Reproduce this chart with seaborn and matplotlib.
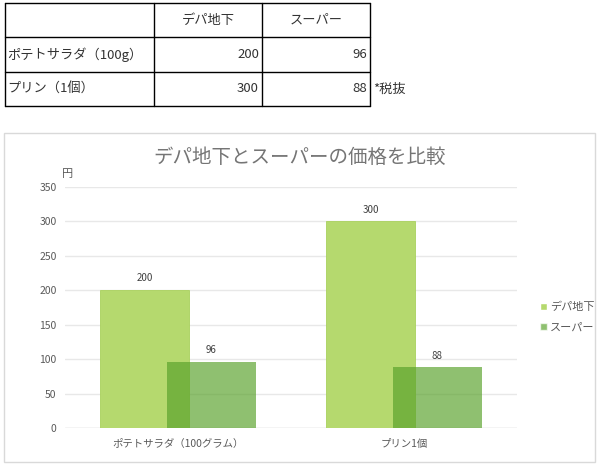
import pandas as pd
import matplotlib.pyplot as plt
import seaborn as sns
from matplotlib.patches import Rectangle, Patch
from matplotlib.lines import Line2D

# Data
ITEMS_TABLE = ["ポテトサラダ（100g）", "プリン（1個）"]
ITEMS_CHART = ["ポテトサラダ（100グラム）", "プリン1個"]
SERIES = ["デパ地下", "スーパー"]
DEPA_PRICES = [200, 300]
SUPER_PRICES = [96, 88]
TAX_NOTE = "*税抜"
TITLE = "デパ地下とスーパーの価格を比較"
Y_UNIT = "円"

W, H = 600, 467
FONTS = ["Noto Sans CJK JP", "DejaVu Sans"]

sns.set_theme(style="white")
plt.rcParams["font.family"] = FONTS


def fx(px):
    return px / W


def fy(py):
    return 1 - py / H


fig = plt.figure(figsize=(W / 100, H / 100), dpi=100)

# Table on top
col_x = [5, 154, 262, 370]
row_y = [3, 37, 72, 106]
for x in col_x:
    fig.add_artist(Line2D([fx(x), fx(x)], [fy(row_y[0]), fy(row_y[-1])], color="black", lw=1))
for y in row_y:
    fig.add_artist(Line2D([fx(col_x[0]), fx(col_x[-1])], [fy(y), fy(y)], color="black", lw=1))

for i, name in enumerate(SERIES):
    cx = (col_x[i + 1] + col_x[i + 2]) / 2
    fig.text(fx(cx), fy(20), name, ha="center", va="center", fontsize=9.5, color="#333333")

table_vals = [DEPA_PRICES, SUPER_PRICES]
for r, label in enumerate(ITEMS_TABLE):
    cy = (row_y[r + 1] + row_y[r + 2]) / 2
    fig.text(fx(7), fy(cy), label, ha="left", va="center", fontsize=9.5, color="#333333")
    for c in range(2):
        fig.text(fx(col_x[c + 2] - 3), fy(cy), str(table_vals[c][r]),
                 ha="right", va="center", fontsize=9.5, color="#333333")
fig.text(fx(373), fy(89), TAX_NOTE, ha="left", va="center", fontsize=9.5, color="#333333")

# Chart frame
fig.add_artist(Rectangle((fx(4), fy(462)), fx(591), 329 / H, transform=fig.transFigure,
                         fill=False, edgecolor="#d9d9d9", lw=1))

df = pd.DataFrame({
    "item": ITEMS_CHART * 2,
    "series": [SERIES[0]] * 2 + [SERIES[1]] * 2,
    "price": DEPA_PRICES + SUPER_PRICES,
})

ax = fig.add_axes([fx(65), 1 - 428 / H, fx(452), 241 / H])
sns.barplot(data=df, x="item", y="price", hue="series", order=ITEMS_CHART,
            hue_order=SERIES, palette=["#b5d96e", "#58a12a"], width=0.592,
            saturation=1, dodge=True, ax=ax, legend=False, errorbar=None)

# widen the bars so they overlap like the Excel chart
bar_w = 0.394
for k, p in enumerate(ax.patches):
    center = p.get_x() + p.get_width() / 2
    p.set_width(bar_w)
    p.set_x(center - bar_w / 2)
    if k >= 2:
        p.set_alpha(0.67)
        p.set_edgecolor("none")
    else:
        p.set_edgecolor("#a9d15d")
        p.set_linewidth(0.6)
    ax.text(center, p.get_height() + 10, f"{int(p.get_height())}", ha="center",
            va="bottom", fontsize=7, color="#404040")

ax.set_ylim(0, 350)
ax.set_xlim(-0.5, 1.5)
ax.set_yticks(range(0, 351, 50))
ax.yaxis.grid(True, color="#e8e8e8", lw=1)
ax.set_axisbelow(True)
for s in ax.spines.values():
    s.set_visible(False)
ax.axhline(0, color="#d9d9d9", lw=1, zorder=0.5)
ax.tick_params(axis="both", length=0, labelsize=7.5, colors="#595959", pad=6)
ax.tick_params(axis="x", pad=8)
ax.set_xlabel("")
ax.set_ylabel("")

fig.text(fx(62), fy(174), Y_UNIT, ha="left", va="center", fontsize=8, color="#595959")
fig.text(fx(300), fy(157), TITLE, ha="center", va="center", fontsize=14, color="#757575")

handles = [Patch(facecolor="#b5d96e"), Patch(facecolor="#58a12a", alpha=0.67)]
fig.legend(handles, SERIES, loc="center left", bbox_to_anchor=(fx(530), fy(317)),
           frameon=False, fontsize=8, handlelength=0.6, handleheight=0.6,
           handletextpad=0.3, labelspacing=0.9, labelcolor="#595959")

fig.savefig("out.png", dpi=100)
